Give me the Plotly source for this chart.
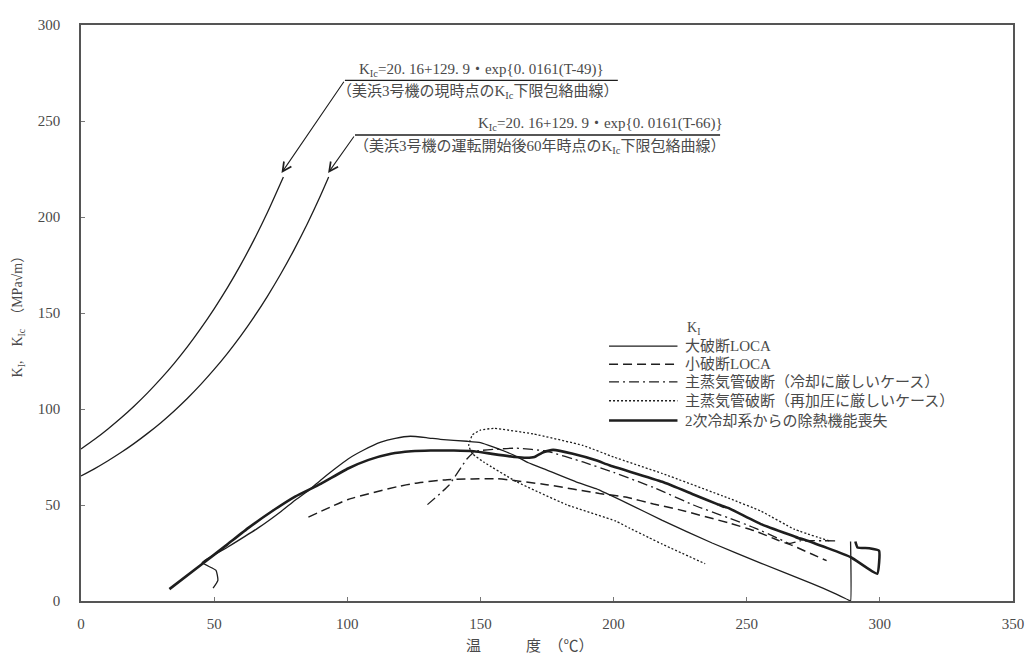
import plotly.graph_objects as go

# ---------------- data ----------------
# KIc lower-bound curves
kic49_T = [0, 5, 10, 15, 20, 25, 30, 35, 40, 45, 50, 55, 60, 65, 70, 76]
kic49_K = [79.2, 84.1, 89.5, 95.3, 101.6, 108.4, 115.8, 123.8, 132.5, 142.0, 152.2, 163.2, 175.2, 188.2, 202.3, 220.8]
kic66_T = [0, 5, 10, 15, 20, 25, 30, 35, 40, 45, 50, 55, 60, 65, 70, 75, 80, 85, 90, 93]
kic66_K = [65.1, 68.8, 72.9, 77.3, 82.1, 87.3, 92.9, 99.0, 105.6, 112.8, 120.6, 129.0, 138.1, 148.0, 158.7, 170.3, 182.9, 196.5, 211.3, 220.8]

# 大破断LOCA
lloca_T = [49.6, 51.4, 50.7, 45.5, 55, 66.7, 75, 80.4, 85, 90.2, 95, 100.3, 106, 112.6, 118, 123.7, 130, 134.9,
           145, 150, 155, 162.5, 168, 174.8, 187, 193.4, 205, 218.3, 237, 255.7, 274.3, 283, 288.5, 289, 289]
lloca_K = [6.7, 10.8, 16, 20, 28, 38.2, 46.5, 52.5, 57, 63.2, 68.5, 74, 78.5, 82.7, 84.7, 85.8, 85, 84.2,
           83.2, 82.5, 80.1, 76, 72, 68.3, 61.5, 58.5, 51, 42, 30.2, 19.5, 9.2, 4, 0.3, 0, 31]

# 小破断LOCA
sloca_T = [85.4, 100.3, 118.9, 125.3, 137.5, 156.2, 174.8, 194.7, 205, 215, 224.5, 243.1, 253.1, 262, 267, 280]
sloca_K = [43.7, 52.9, 59.6, 61.3, 63.2, 63.7, 60.6, 56, 54, 50.5, 47.6, 40.7, 36.5, 31.5, 29, 21]

# 主蒸気管破断（冷却に厳しいケース）
mslbc_T = [130.1, 138, 145, 148, 155, 163.6, 175, 188.5, 200, 215.8, 230, 243.1, 253.1, 262, 266, 270, 284]
mslbc_K = [50.2, 60, 74.1, 77.9, 79, 79.6, 78, 72.4, 67, 58.7, 50, 43.3, 38, 32.5, 30, 31.3, 31.3]

# 主蒸気管破断（再加圧に厳しいケース）
mslbp_T = [281, 268, 255.5, 243.1, 218.3, 200, 188.5, 169.9, 155, 150, 147, 145.6, 147, 151.2, 163.6, 182.3,
           200.9, 205.9, 213.3, 218.3, 234.4]
mslbp_K = [31.3, 37.3, 46.7, 53.6, 66.4, 75, 81, 87, 89.9, 89, 86.5, 81, 76.7, 72.4, 62.1, 50.2,
           41.6, 38, 33, 29.6, 19.4]

# 2次冷却系からの除熱機能喪失
lohs_T = [33.2, 45.6, 55, 63, 72, 80.4, 90, 100.3, 108, 116.4, 124, 131.3, 140, 147.5, 155, 163, 167.3, 170.3,
          173.6, 177.3, 184.7, 193.4, 198.4, 218.3, 230, 239.4, 241.5, 238.8, 243, 255.6, 269.2, 271, 268, 272,
          289.1, 299, 299.7, 296, 291.6, 290.8]
lohs_K = [6.2, 19.4, 29.5, 38.2, 47, 54.4, 61, 69, 73.5, 76.7, 78, 78.4, 78.4, 78, 76.5, 75, 74.6, 75,
          77.5, 78.7, 76.7, 73.3, 70.7, 62.1, 55.5, 50.2, 49, 50.5, 48.5, 39.9, 33, 32, 33.4, 31.8,
          22.8, 14.2, 26.2, 27.5, 27.9, 31]

legend_names = ["大破断LOCA", "小破断LOCA", "主蒸気管破断（冷却に厳しいケース）",
                "主蒸気管破断（再加圧に厳しいケース）", "2次冷却系からの除熱機能喪失"]

x_ticks = [0, 50, 100, 150, 200, 250, 300, 350]
y_ticks = [0, 50, 100, 150, 200, 250, 300]

# ---------------- styling ----------------
LINE = "#1e1e1e"
TXT = "#4a4a4a"
SERIF = "Liberation Serif, Noto Sans CJK JP, serif"

styles = [
    dict(width=1.3, dash="solid"),
    dict(width=1.5, dash="9px,5px"),
    dict(width=1.3, dash="10px,4px,2px,4px"),
    dict(width=1.3, dash="2px,2px"),
    dict(width=2.6, dash="solid"),
]

fig = go.Figure()

for T, K in [(kic49_T, kic49_K), (kic66_T, kic66_K)]:
    fig.add_trace(go.Scatter(x=T, y=K, mode="lines", line=dict(color=LINE, width=1.3, shape="spline", smoothing=0.6),
                             showlegend=False, hoverinfo="skip"))

series = [(lloca_T, lloca_K), (sloca_T, sloca_K), (mslbc_T, mslbc_K), (mslbp_T, mslbp_K), (lohs_T, lohs_K)]
for (T, K), st, nm in zip(series, styles, legend_names):
    fig.add_trace(go.Scatter(x=T, y=K, mode="lines", name=nm,
                             line=dict(color=LINE, width=st["width"], dash=st["dash"], shape="spline", smoothing=0.4),
                             showlegend=False))

# ---------------- custom legend ----------------
leg_rows_K = [132.7, 123.3, 114.1, 104.3, 94.0]
for k, st, nm in zip(leg_rows_K, styles, legend_names):
    fig.add_shape(type="line", xref="x", yref="y", x0=198.3, x1=224.0, y0=k, y1=k,
                  line=dict(color=LINE, width=st["width"], dash=st["dash"]))
    fig.add_annotation(x=226.2, y=k, xref="x", yref="y", text=nm, showarrow=False, xanchor="left", yanchor="middle",
                       font=dict(family=SERIF, size=15, color=TXT))
fig.add_annotation(x=226.9, y=141.8, xref="x", yref="y", text="K<sub>I</sub>", showarrow=False,
                   xanchor="left", yanchor="middle", font=dict(family=SERIF, size=14, color=TXT))

# ---------------- KIc callouts ----------------
# callout 1
fig.add_shape(type="line", xref="x", yref="y", x0=99.1, x1=201.6, y0=271.2, y1=271.2, line=dict(color=LINE, width=1.3))
fig.add_annotation(x=75.3, y=222.9, ax=99.1, ay=271.2, xref="x", yref="y", axref="x", ayref="y", text="",
                   showarrow=True, arrowhead=5, arrowsize=1.6, arrowwidth=1.1, arrowcolor=LINE)
fig.add_annotation(x=150.3, y=271.2, xref="x", yref="y", yshift=10, text="K<sub>Ic</sub>=20. 16+129. 9・exp{0. 0161(T-49)}",
                   showarrow=False, xanchor="center", yanchor="middle", font=dict(family=SERIF, size=15, color=TXT))
fig.add_annotation(x=149.0, y=271.2, xref="x", yref="y", yshift=-12, text="（美浜3号機の現時点のK<sub>Ic</sub>下限包絡曲線）",
                   showarrow=False, xanchor="center", yanchor="middle", font=dict(family=SERIF, size=15, color=TXT))
# callout 2
fig.add_shape(type="line", xref="x", yref="y", x0=102.9, x1=240.0, y0=242.7, y1=242.7, line=dict(color=LINE, width=1.3))
fig.add_annotation(x=92.8, y=222.9, ax=102.9, ay=242.7, xref="x", yref="y", axref="x", ayref="y", text="",
                   showarrow=True, arrowhead=5, arrowsize=1.6, arrowwidth=1.1, arrowcolor=LINE)
fig.add_annotation(x=195.0, y=242.7, xref="x", yref="y", yshift=11, text="K<sub>Ic</sub>=20. 16+129. 9・exp{0. 0161(T-66)}",
                   showarrow=False, xanchor="center", yanchor="middle", font=dict(family=SERIF, size=15, color=TXT))
fig.add_annotation(x=172.5, y=242.7, xref="x", yref="y", yshift=-12, text="（美浜3号機の運転開始後60年時点のK<sub>Ic</sub>下限包絡曲線）",
                   showarrow=False, xanchor="center", yanchor="middle", font=dict(family=SERIF, size=15, color=TXT))

# ---------------- axis titles ----------------
fig.add_annotation(x=-63 / 939, y=0.5, xref="paper", yref="paper", text="K<sub>I</sub>,　K<sub>Ic</sub>　（MPa√m）",
                   textangle=-90, showarrow=False, xanchor="center", yanchor="middle",
                   font=dict(family=SERIF, size=14, color=TXT))
fig.add_annotation(x=(533 - 81) / 939, y=-46 / 584, xref="paper", yref="paper", text="温　　　度　（℃）",
                   showarrow=False, xanchor="center", yanchor="middle", font=dict(family=SERIF, size=15, color=TXT))

axis_common = dict(showgrid=False, zeroline=False, showline=True, linecolor="#555555", linewidth=1.5, mirror=True,
                   ticks="inside", ticklen=4, tickcolor="#777777", tickfont=dict(family=SERIF, size=15, color=TXT))
fig.update_xaxes(range=[0, 350], tickvals=x_ticks, ticktext=[str(v) for v in x_ticks], ticklabelstandoff=8, **axis_common)
fig.update_yaxes(range=[0, 300], tickvals=y_ticks, ticktext=[str(v) for v in y_ticks], ticklabelstandoff=16, **axis_common)

# page body has an 8px margin: compensate so the plot area lands at x 81-1020, y 17-601 in the window
fig.update_layout(width=1025, height=653, margin=dict(l=73, r=13, t=9, b=60),
                  plot_bgcolor="white", paper_bgcolor="white", showlegend=False)

fig.write_html("out.html")
